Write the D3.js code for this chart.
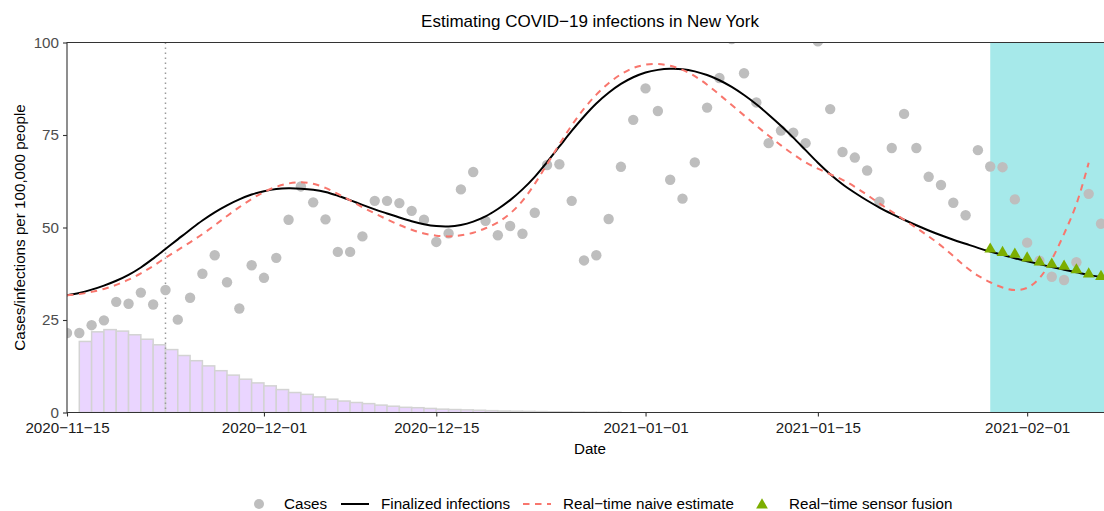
<!DOCTYPE html>
<html>
<head>
<meta charset="utf-8">
<script src="https://cdn.jsdelivr.net/npm/d3@7"></script>
<style>
  html, body { margin: 0; padding: 0; background: #fff; }
  svg { display: block; font-family: "Liberation Sans", Arial, Helvetica, sans-serif; }
</style>
</head>
<body>
<svg id="chart" width="1104" height="511"></svg>
<script>
// ---------------- DATA ----------------
const title = "Estimating COVID\u221219 infections in New York";
const xTitle = "Date";
const yTitle = "Cases/infections per 100,000 people";

// daily series start on this date
const seriesStart = "2020-11-15";

// reported cases per 100,000 (one per day from 2020-11-15)
const cases = [21.5, 21.5, 23.6, 24.9, 29.9, 29.4, 32.4, 29.2, 33.1, 25.1,
  31.0, 37.5, 42.5, 35.2, 28.1, 39.8, 36.4, 41.8, 52.1, 61.1,
  56.8, 52.2, 43.4, 43.4, 47.6, 57.2, 57.2, 56.6, 54.5, 52.1,
  46.1, 48.4, 60.3, 65.0, 51.8, 47.9, 50.4, 48.3, 54.0, 66.9,
  67.1, 57.2, 41.1, 42.5, 52.3, 66.4, 79.1, 87.6, 81.5, 62.9,
  57.8, 67.6, 82.4, 90.4, 100.9, 91.7, 83.8, 72.8, 76.2, 75.6,
  72.8, 100.3, 82.0, 70.4, 68.9, 65.4, 57.0, 71.5, 80.7, 71.5,
  63.7, 61.5, 56.7, 53.3, 70.9, 66.5, 66.3, 57.6, 45.9, 41.0,
  36.7, 35.8, 40.6, 59.1, 51.0];

// finalized infections (daily from 2020-11-15)
const finalized = [31.7, 32.3, 33.2, 34.3, 35.6, 37.2, 39.2, 41.6, 44.2, 46.8,
  49.4, 51.9, 54.1, 56.0, 57.6, 58.9, 59.8, 60.4, 60.6, 60.5,
  60.2, 59.6, 58.6, 57.4, 56.1, 54.9, 53.8, 52.7, 51.7, 50.9,
  50.4, 50.3, 50.7, 51.6, 53.0, 55.0, 57.4, 60.3, 63.7, 67.7,
  71.9, 76.1, 80.0, 83.5, 86.4, 88.8, 90.6, 91.9, 92.6, 92.9,
  92.8, 92.2, 91.2, 89.8, 88.0, 85.8, 83.3, 80.5, 77.5, 74.3,
  70.9, 67.5, 64.4, 61.7, 59.4, 57.3, 55.4, 53.7, 52.1, 50.6,
  49.2, 47.9, 46.7, 45.6, 44.5, 43.5, 42.6, 41.7, 40.9, 40.1,
  39.3, 38.6, 37.9, 37.2, 36.6];

// real-time naive estimate (daily from 2020-11-15)
const naive = [31.7, 32.0, 32.6, 33.4, 34.5, 35.9, 37.6, 39.6, 41.8, 43.9,
  46.0, 48.2, 50.6, 53.1, 55.5, 57.7, 59.6, 61.0, 61.9, 62.2,
  61.8, 60.7, 59.1, 57.3, 55.5, 53.8, 52.2, 50.7, 49.4, 48.4,
  47.8, 47.6, 47.9, 48.6, 49.8, 51.4, 53.8, 57.2, 61.8, 67.1,
  72.5, 77.6, 82.1, 85.9, 89.0, 91.4, 93.1, 94.0, 94.2, 93.7,
  92.6, 90.9, 88.6, 85.9, 83.1, 80.3, 77.5, 74.8, 72.2, 69.8,
  67.6, 65.9, 64.4, 62.9, 61.0, 58.8, 56.5, 54.3, 52.1, 49.9,
  47.6, 45.1, 42.3, 39.4, 37.0, 35.2, 33.8, 33.1, 33.7, 36.3,
  41.4, 48.3, 56.3, 67.5];

// real-time sensor fusion (daily from 2021-01-29)
const sensorStart = "2021-01-29";
const sensor = [44.4, 43.5, 43.0, 42.0, 40.9, 40.3, 39.8, 38.8, 37.7, 37.0];

// delay distribution bars (daily from 2020-11-16)
const barStart = "2020-11-16";
const bars = [19.2, 21.8, 22.4, 22.0, 21.0, 19.8, 18.3, 17.0, 15.4, 14.0,
  12.6, 11.3, 10.1, 9.0, 8.0, 7.2, 6.2, 5.4, 4.9, 4.2,
  3.6, 3.1, 2.7, 2.4, 2.0, 1.7, 1.4, 1.3, 1.1, 0.9,
  0.8, 0.7, 0.6, 0.5, 0.4, 0.35, 0.3, 0.25, 0.2, 0.16,
  0.13, 0.1, 0.08, 0.06];

const vlineDate = "2020-11-23";
const shadeStart = "2021-01-29";

const xTickValues = ["2020-11-15", "2020-12-01", "2020-12-15", "2021-01-01", "2021-01-15", "2021-02-01"];
const yTickValues = [0, 25, 50, 75, 100];
const xDomain = ["2020-11-15T00:00", "2021-02-07T05:50"];
const yDomain = [0, 100];

const legendItems = ["Cases", "Finalized infections", "Real\u2212time naive estimate", "Real\u2212time sensor fusion"];

// ---------------- DRAW ----------------
const parse = d3.utcParse("%Y-%m-%d");
const parseT = d3.utcParse("%Y-%m-%dT%H:%M");
const svg = d3.select("#chart");

const P = { left: 67, right: 1105, top: 42.5, bottom: 412.5 };
const x = d3.scaleUtc().domain(xDomain.map(parseT)).range([P.left, 1104]);
const y = d3.scaleLinear().domain(yDomain).range([P.bottom, P.top]);

const byDay = (start, arr) => arr.map((v, i) => ({ date: d3.utcDay.offset(parse(start), i), v }));
const casesD = byDay(seriesStart, cases);
const finD = byDay(seriesStart, finalized);
const naiveD = byDay(seriesStart, naive);
const sensorD = byDay(sensorStart, sensor);
const barsD = byDay(barStart, bars);

const COL = { red: "#F8766D", green: "#7CAE00", cyan: "#00BFC4", purple: "#C77CFF", dot: "#BEBEBE" };

svg.append("defs").append("clipPath").attr("id", "clip")
  .append("rect").attr("x", P.left).attr("y", P.top)
  .attr("width", P.right - P.left).attr("height", P.bottom - P.top);

const g = svg.append("g").attr("clip-path", "url(#clip)");

// shaded real-time region
g.append("rect")
  .attr("x", x(parse(shadeStart))).attr("y", P.top)
  .attr("width", P.right - x(parse(shadeStart))).attr("height", P.bottom - P.top)
  .attr("fill", COL.cyan).attr("fill-opacity", 0.35);

// bars
g.selectAll("rect.bar").data(barsD).join("rect").attr("class", "bar")
  .attr("x", d => x(d.date))
  .attr("width", d => x(d3.utcDay.offset(d.date, 1)) - x(d.date))
  .attr("y", d => y(d.v))
  .attr("height", d => y(0) - y(d.v))
  .attr("fill", "#ead5ff")
  .attr("stroke", "#d3d3d3").attr("stroke-width", 1.5);

// vertical dotted line
g.append("line")
  .attr("x1", x(parse(vlineDate))).attr("x2", x(parse(vlineDate)))
  .attr("y1", P.top).attr("y2", P.bottom)
  .attr("stroke", "#9a9a9a").attr("stroke-width", 1.5)
  .attr("stroke-dasharray", "1.5,3.5");

// cases dots
g.selectAll("circle.case").data(casesD).join("circle").attr("class", "case")
  .attr("cx", d => x(d.date)).attr("cy", d => y(d.v)).attr("r", 5.2)
  .attr("fill", COL.dot);

const line = d3.line().x(d => x(d.date)).y(d => y(d.v)).curve(d3.curveCatmullRom.alpha(0.5));

g.append("path").datum(finD).attr("d", line)
  .attr("fill", "none").attr("stroke", "#000").attr("stroke-width", 2);

g.append("path").datum(naiveD).attr("d", line)
  .attr("fill", "none").attr("stroke", COL.red).attr("stroke-width", 2)
  .attr("stroke-dasharray", "6.5,5.5");

const tri = d3.symbol().type(d3.symbolTriangle).size(60);
g.selectAll("path.tri").data(sensorD).join("path").attr("class", "tri")
  .attr("transform", d => `translate(${x(d.date)},${y(d.v) + 1})`)
  .attr("d", tri).attr("fill", COL.green);

// panel border (left, top, bottom)
svg.append("path")
  .attr("d", `M${P.right},${P.top}H${P.left}V${P.bottom}H${P.right}`)
  .attr("fill", "none").attr("stroke", "#333").attr("stroke-width", 1.1);

// axes
const fmt = d3.utcFormat("%Y-%m-%d");
const xAxis = d3.axisBottom(x).tickValues(xTickValues.map(parse))
  .tickFormat(d => fmt(d).replace(/-/g, "\u2212")).tickSize(4).tickPadding(6);
const gx = svg.append("g").attr("transform", `translate(0,${P.bottom})`).call(xAxis);
gx.select(".domain").remove();
gx.selectAll(".tick line").attr("stroke", "#333").attr("stroke-width", 1.1);
gx.selectAll(".tick text").attr("fill", "#1a1a1a").style("font-size", "15.2px")
  .style("font-family", "'Liberation Sans', Arial, sans-serif");

const yAxis = d3.axisLeft(y).tickValues(yTickValues).tickSize(4).tickPadding(4);
const gy = svg.append("g").attr("transform", `translate(${P.left},0)`).call(yAxis);
gy.select(".domain").remove();
gy.selectAll(".tick line").attr("stroke", "#333").attr("stroke-width", 1.1);
gy.selectAll(".tick text").attr("fill", "#4d4d4d").style("font-size", "15.2px")
  .style("font-family", "'Liberation Sans', Arial, sans-serif");

// titles
svg.append("text").attr("x", 590).attr("y", 26.5).attr("text-anchor", "middle")
  .style("font-size", "17px").attr("fill", "#000").text(title);
svg.append("text").attr("x", 590).attr("y", 454).attr("text-anchor", "middle")
  .style("font-size", "15.2px").attr("fill", "#000").text(xTitle);
svg.append("text").attr("transform", `translate(25,${(P.top + P.bottom) / 2}) rotate(-90)`)
  .attr("text-anchor", "middle").style("font-size", "15.2px").attr("fill", "#000").text(yTitle);

// legend
const legY = 504;
const keyCx = [259, 355, 537, 762];
const textX = [284, 381, 563, 789];
const leg = svg.append("g");
leg.append("circle").attr("cx", keyCx[0]).attr("cy", legY).attr("r", 5).attr("fill", COL.dot);
leg.append("line").attr("x1", keyCx[1] - 14).attr("x2", keyCx[1] + 14).attr("y1", legY).attr("y2", legY)
  .attr("stroke", "#000").attr("stroke-width", 2);
leg.append("line").attr("x1", keyCx[2] - 14).attr("x2", keyCx[2] + 14).attr("y1", legY).attr("y2", legY)
  .attr("stroke", COL.red).attr("stroke-width", 2).attr("stroke-dasharray", "6.5,5.5");
leg.append("path").attr("transform", `translate(${keyCx[3]},${legY + 1})`).attr("d", tri).attr("fill", COL.green);
legendItems.forEach((t, i) => {
  leg.append("text").attr("x", textX[i]).attr("y", legY + 5.3)
    .style("font-size", "15.2px").attr("fill", "#000").text(t);
});
</script>
</body>
</html>
